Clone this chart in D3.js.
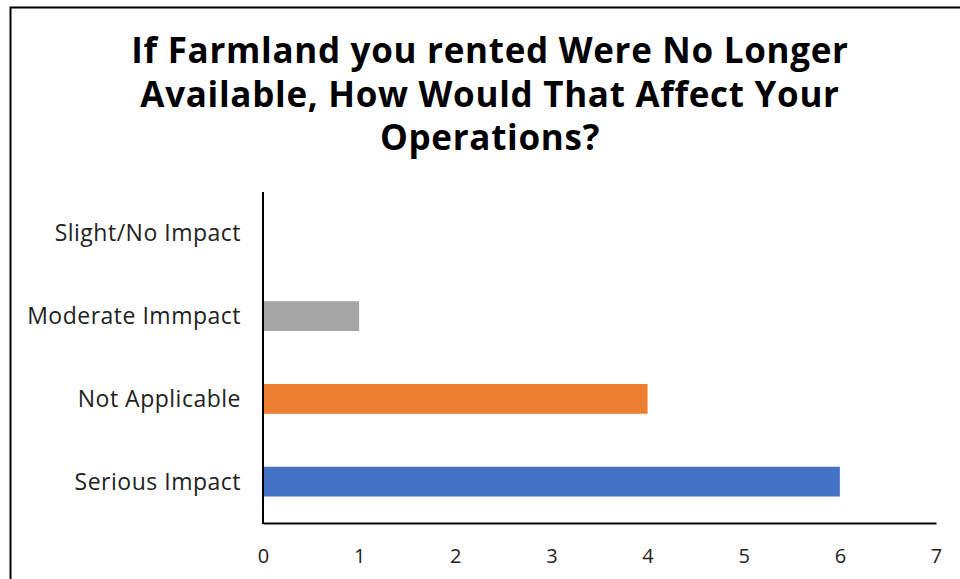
<!DOCTYPE html>
<html>
<head>
<meta charset="utf-8">
<script src="https://cdn.jsdelivr.net/npm/d3@7"></script>
<style>
  body { margin: 0; background: #fff; }
  svg text { fill: #000; }
  .title { font-family: "Open Sans", sans-serif; font-weight: 700; font-size: 35px; letter-spacing: 0.7px; }
  .cat { font-family: "Open Sans", sans-serif; font-size: 23px; letter-spacing: 0.5px; fill: #222; }
  .tick text { font-family: "Open Sans", sans-serif; font-size: 20px; fill: #222; }
</style>
</head>
<body>
<svg width="960" height="579"></svg>
<script>

var titleLines = ["If Farmland you rented Were No Longer",
                  "Available, How Would That Affect Your",
                  "Operations?"];
var categories = ["Slight/No Impact", "Moderate Immpact", "Not Applicable", "Serious Impact"];
var values = [0, 1, 4, 6];
var colors = ["#A5A5A5", "#A5A5A5", "#ED7D31", "#4472C4"];
var xTicks = [0, 1, 2, 3, 4, 5, 6, 7];

var svg = d3.select("svg");

// chart border (runs off the right/bottom edge like the screenshot)
svg.append("rect")
    .attr("x", 10.5).attr("y", 7.5)
    .attr("width", 1000).attr("height", 700)
    .attr("fill", "none")
    .attr("stroke", "#000")
    .attr("stroke-width", 2);

// title
svg.append("text")
    .attr("class", "title")
    .attr("text-anchor", "middle")
    .selectAll("tspan")
    .data(titleLines)
    .enter().append("tspan")
    .attr("x", 490)
    .attr("y", function(d, i) { return 63 + i * 43.5; })
    .text(function(d) { return d; });

var x = d3.scaleLinear()
    .domain([0, 7])
    .range([263, 936]);

var y = d3.scaleBand()
    .domain(categories)
    .range([192, 523])
    .paddingInner(0.64)
    .paddingOuter(0.32);

// bars
svg.selectAll(".bar")
    .data(categories)
    .enter().append("rect")
    .attr("class", "bar")
    .attr("x", x(0))
    .attr("y", function(d) { return y(d); })
    .attr("height", y.bandwidth())
    .attr("width", function(d, i) { return x(values[i]) - x(0); })
    .style("fill", function(d, i) { return colors[i]; });

// category labels
svg.selectAll(".cat")
    .data(categories)
    .enter().append("text")
    .attr("class", "cat")
    .attr("x", 241)
    .attr("y", function(d) { return y(d) + y.bandwidth() / 2; })
    .attr("dy", "0.35em")
    .attr("text-anchor", "end")
    .text(function(d) { return d; });

// x axis: line + labels only
var xAxis = d3.axisBottom(x)
    .tickValues(xTicks)
    .tickSize(0)
    .tickPadding(26)
    .tickFormat(d3.format("d"));

var gx = svg.append("g")
    .attr("transform", "translate(0,523)")
    .call(xAxis);
gx.select(".domain").attr("stroke", "#000").attr("stroke-width", 2);

// y axis line
svg.append("line")
    .attr("x1", x(0)).attr("x2", x(0))
    .attr("y1", 192).attr("y2", 524)
    .attr("stroke", "#000")
    .attr("stroke-width", 2);

</script>
</body>
</html>
